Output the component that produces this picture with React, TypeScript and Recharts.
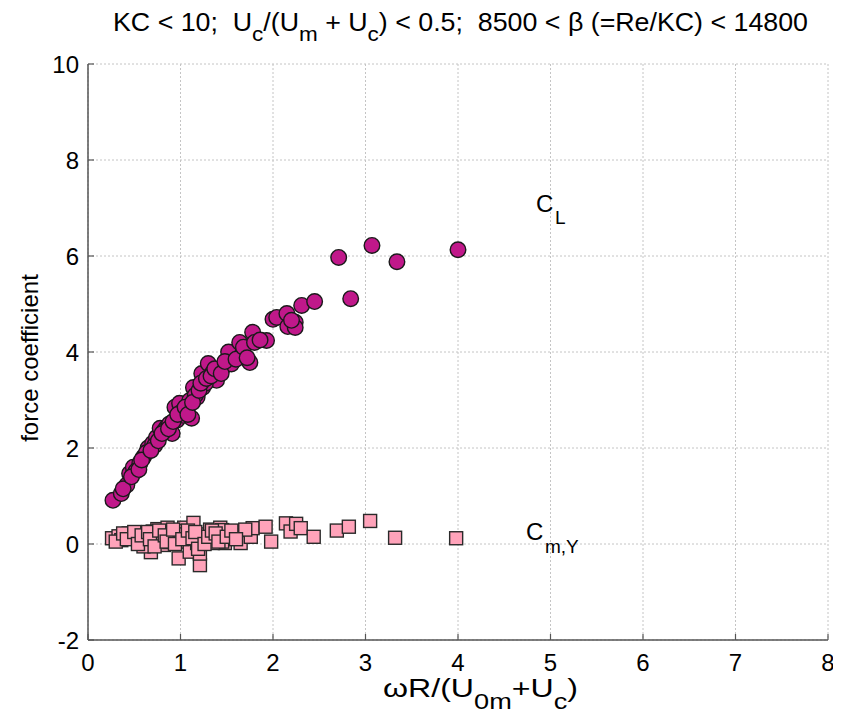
import React from 'react'
import { ScatterChart, Scatter, XAxis, YAxis, CartesianGrid } from 'recharts'

// C_L (circles)
const clX = [
  0.27, 0.36, 0.42, 0.45, 0.49, 0.56, 0.6, 0.65, 0.7, 0.74, 0.78, 0.85, 0.91, 0.96, 0.94, 0.99,
  1.03, 1.07, 1.1, 1.12, 1.14, 1.18, 1.23, 1.24, 1.3, 1.35, 1.39, 1.46, 1.52, 1.64, 1.66, 1.75,
  1.78, 1.93, 2.0, 2.04, 2.15, 2.16, 2.24, 2.24, 2.31, 2.45, 2.71, 2.84, 3.07, 3.34, 4.0,
  0.52, 0.63, 0.72, 0.82, 0.88, 1.01, 1.16, 1.27, 1.42, 1.55, 2.2,
  0.38, 0.47, 0.55, 0.58, 0.68, 0.76, 0.8, 0.87, 0.92, 0.97, 1.05, 1.08, 1.13, 1.2, 1.22, 1.28,
  1.33, 1.37, 1.44, 1.48, 1.6, 1.68, 1.72, 1.8, 1.86,
]
const clY = [
  0.91, 1.05, 1.23, 1.47, 1.6, 1.68, 1.81, 2.0, 2.1, 2.22, 2.41, 2.43, 2.3, 2.58, 2.85, 2.93,
  2.68, 2.79, 2.99, 2.62, 3.26, 3.06, 3.55, 3.26, 3.76, 3.58, 3.41, 3.68, 4.0, 4.2, 3.93, 3.78,
  4.41, 4.24, 4.68, 4.72, 4.8, 4.53, 4.62, 4.51, 4.97, 5.05, 5.97, 5.11, 6.22, 5.88, 6.13,
  1.52, 1.9, 2.05, 2.35, 2.5, 2.75, 3.1, 3.35, 3.6, 3.75, 4.66,
  1.15, 1.4, 1.55, 1.75, 1.95, 2.15, 2.3, 2.4, 2.55, 2.7, 2.85, 2.7, 2.95, 3.2, 3.35, 3.45,
  3.5, 3.65, 3.55, 3.8, 3.85, 4.1, 3.88, 4.2, 4.25,
]

// C_m,Y (squares)
const cmX = [
  0.26, 0.33, 0.4, 0.47, 0.52, 0.57, 0.61, 0.66, 0.68, 0.73, 0.75, 0.78, 0.82, 0.86, 0.9, 0.93,
  0.98, 0.98, 1.04, 1.07, 1.1, 1.14, 1.18, 1.21, 1.21, 1.27, 1.32, 1.39, 1.43, 1.48, 1.52,
  1.45, 1.45, 1.65, 1.65, 1.76, 1.78, 1.92, 1.98, 2.14, 2.19, 2.25, 2.3, 2.44, 2.69, 2.82,
  3.05, 3.32, 3.98,
  0.36, 0.44, 0.55, 0.63, 0.7, 0.8, 0.88, 0.95, 1.0, 1.12, 1.25, 1.35, 1.58, 1.7, 0.6, 1.05,
  0.3, 0.38, 0.42, 0.5, 0.54, 0.58, 0.65, 0.67, 0.72, 0.77, 0.83, 0.85, 0.92, 0.94, 1.02, 1.08,
  1.13, 1.16, 1.19, 1.26, 1.3, 1.34, 1.38, 1.41, 1.5, 1.55, 1.6,
]
const cmY = [
  0.12, 0.16, 0.16, 0.12, 0.2, 0.09, 0.23, 0.02, -0.17, 0.16, 0.31, 0.12, -0.02, 0.34, 0.12, 0.23,
  -0.3, 0.12, 0.34, 0.05, -0.16, 0.44, 0.02, -0.44, -0.2, 0.2, 0.3, 0.12, 0.34, 0.02, 0.23,
  0.29, 0.05, 0.26, 0.02, 0.15, 0.33, 0.36, 0.05, 0.43, 0.26, 0.42, 0.33, 0.15, 0.28, 0.36,
  0.48, 0.13, 0.12,
  0.08, 0.22, 0.05, 0.14, 0.26, 0.2, 0.04, 0.18, 0.27, 0.15, 0.08, 0.02, 0.18, 0.3, -0.05, 0.2,
  0.05, 0.22, 0.1, 0.25, 0.0, 0.18, 0.25, 0.1, -0.05, 0.28, 0.18, 0.05, 0.3, 0.0, 0.1, 0.28,
  0.12, 0.25, -0.1, 0.0, 0.15, 0.28, 0.22, 0.05, 0.15, 0.28, 0.1,
]

const xTicks = [0, 1, 2, 3, 4, 5, 6, 7, 8]
const yTicks = [-2, 0, 2, 4, 6, 8, 10]

const clData = clX.map((x, i) => ({ x, y: clY[i] }))
const cmData = cmX.map((x, i) => ({ x, y: cmY[i] }))

const FONT = '"Liberation Sans", Arial, sans-serif'
const TICK_LEN = 6
const AXIS_COLOR = '#555'

const BottomTick = ({ x, y, payload }: any) => (
  <g>
    <line x1={x} x2={x} y1={y - 14} y2={y - 14 - TICK_LEN} stroke={AXIS_COLOR} strokeWidth={1.2} />
    <text x={x} y={y} dy="0.71em" textAnchor="middle" fontSize={24} fill="#000" fontFamily={FONT}>
      {payload.value}
    </text>
  </g>
)

const LeftTick = ({ x, y, payload }: any) => (
  <g>
    <line x1={x + 9} x2={x + 9 + TICK_LEN} y1={y} y2={y} stroke={AXIS_COLOR} strokeWidth={1.2} />
    <text x={x} y={y} dy="0.355em" textAnchor="end" fontSize={24} fill="#000" fontFamily={FONT}>
      {payload.value}
    </text>
  </g>
)

const TopTick = ({ x, y }: any) => (
  <line x1={x} x2={x} y1={y} y2={y + TICK_LEN} stroke={AXIS_COLOR} strokeWidth={1.2} />
)

const RightTick = ({ x, y }: any) => (
  <line x1={x} x2={x - TICK_LEN} y1={y} y2={y} stroke={AXIS_COLOR} strokeWidth={1.2} />
)

const CircleMark = ({ cx, cy }: any) => (
  <circle cx={cx} cy={cy} r={7.8} fill="#c0188a" stroke="#1a1a1a" strokeWidth={1.4} />
)

const SquareMark = ({ cx, cy }: any) => (
  <rect x={cx - 6.5} y={cy - 6.5} width={13} height={13} fill="#ffa3ba" stroke="#2a2a2a" strokeWidth={1.4} />
)

export default function App() {
  return (
    <div style={{ position: 'relative', width: 841, height: 722, marginLeft: -8, marginTop: -8, background: '#fff' }}>
      <ScatterChart width={841} height={722} margin={{ top: 64, right: 13, bottom: 32, left: 28 }}>
        <CartesianGrid stroke="#c4c4c4" strokeDasharray="2 2" strokeWidth={1} />
        <XAxis
          type="number"
          dataKey="x"
          domain={[0, 8]}
          ticks={xTicks}
          height={50}
          tickLine={false}
          tickSize={0}
          tickMargin={14}
          tick={BottomTick}
          stroke={AXIS_COLOR}
          strokeWidth={1.5}
          allowDataOverflow
        />
        <XAxis
          xAxisId="top"
          orientation="top"
          type="number"
          dataKey="x"
          domain={[0, 8]}
          ticks={xTicks}
          height={0}
          tickLine={false}
          tickSize={0}
          tickMargin={0}
          tick={TopTick}
          stroke={AXIS_COLOR}
          strokeWidth={1.5}
          allowDataOverflow
        />
        <YAxis
          type="number"
          dataKey="y"
          domain={[-2, 10]}
          ticks={yTicks}
          width={60}
          tickLine={false}
          tickSize={0}
          tickMargin={9}
          tick={LeftTick}
          stroke={AXIS_COLOR}
          strokeWidth={1.5}
          allowDataOverflow
        />
        <YAxis
          yAxisId="right"
          orientation="right"
          type="number"
          dataKey="y"
          domain={[-2, 10]}
          ticks={yTicks}
          width={0}
          tickLine={false}
          tickSize={0}
          tickMargin={0}
          tick={RightTick}
          stroke={AXIS_COLOR}
          strokeWidth={1.5}
          allowDataOverflow
        />
        <Scatter data={cmData} shape={SquareMark} isAnimationActive={false} />
        <Scatter data={clData} shape={CircleMark} isAnimationActive={false} />
      </ScatterChart>
      <svg
        width={841}
        height={722}
        style={{ position: 'absolute', left: 0, top: 0, pointerEvents: 'none' }}
        fontFamily={FONT}
        fill="#000"
      >
        <text
          x={113}
          y={31}
          fontSize={25}
          xmlSpace="preserve"
          textLength={695}
          lengthAdjust="spacingAndGlyphs"
        >
          {'KC < 10;  U'}
          <tspan dy={10} fontSize={21}>c</tspan>
          <tspan dy={-10}>/(U</tspan>
          <tspan dy={10} fontSize={21}>m</tspan>
          <tspan dy={-10}>{' + U'}</tspan>
          <tspan dy={10} fontSize={21}>c</tspan>
          <tspan dy={-10}>{') < 0.5;  8500 < β (=Re/KC) < 14800'}</tspan>
        </text>
        <text x={383} y={697} fontSize={26} textLength={195} lengthAdjust="spacingAndGlyphs">
          ωR/(U
          <tspan dy={12} fontSize={22}>0m</tspan>
          <tspan dy={-12}>+U</tspan>
          <tspan dy={12} fontSize={22}>c</tspan>
          <tspan dy={-12}>)</tspan>
        </text>
        <text x={38} y={358} fontSize={24} textAnchor="middle" transform="rotate(-90 38 358)">
          force coefficient
        </text>
        <text x={536} y={212} fontSize={24}>C</text>
        <text x={555} y={224} fontSize={19}>L</text>
        <text x={526} y={540} fontSize={24}>C</text>
        <text x={545} y={553} fontSize={19}>m,Y</text>
      </svg>
    </div>
  )
}
